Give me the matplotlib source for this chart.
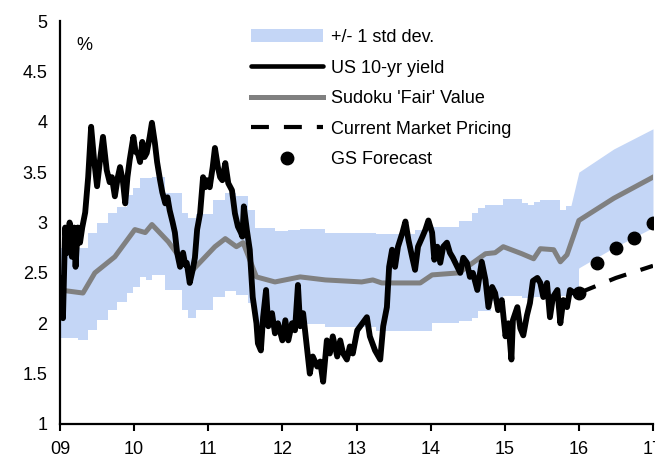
import matplotlib
matplotlib.use("Agg")
import matplotlib.pyplot as plt

plt.rcParams['font.family'] = ['Liberation Sans', 'DejaVu Sans']

# US 10-yr yield, fractional years
yield_t = [2009.00, 2009.02, 2009.04, 2009.07, 2009.10, 2009.13, 2009.16, 2009.19, 2009.21, 2009.24,
           2009.27, 2009.30, 2009.34, 2009.38, 2009.42, 2009.46, 2009.50, 2009.54, 2009.58, 2009.63,
           2009.67, 2009.70, 2009.74, 2009.78, 2009.81, 2009.85, 2009.88, 2009.91, 2009.94, 2009.99,
           2010.02, 2010.05, 2010.08, 2010.11, 2010.14, 2010.17, 2010.21, 2010.24, 2010.28, 2010.31,
           2010.35, 2010.38, 2010.42, 2010.45, 2010.48, 2010.52, 2010.55, 2010.58, 2010.62, 2010.66,
           2010.69, 2010.71, 2010.75, 2010.79, 2010.82, 2010.85, 2010.89, 2010.93, 2010.96, 2010.98,
           2011.02, 2011.06, 2011.09, 2011.13, 2011.16, 2011.19, 2011.23, 2011.27, 2011.32, 2011.36,
           2011.40, 2011.44, 2011.46, 2011.48, 2011.52, 2011.56, 2011.60, 2011.63, 2011.65, 2011.67,
           2011.71, 2011.74, 2011.78, 2011.81, 2011.86, 2011.90, 2011.94, 2012.00, 2012.04, 2012.08,
           2012.13, 2012.17, 2012.21, 2012.24, 2012.28, 2012.33, 2012.37, 2012.41, 2012.47, 2012.51,
           2012.55, 2012.60, 2012.64, 2012.68, 2012.74, 2012.78, 2012.82, 2012.87, 2012.91, 2012.95,
           2013.01, 2013.08, 2013.14, 2013.18, 2013.25, 2013.32, 2013.36, 2013.41, 2013.44, 2013.48,
           2013.52, 2013.56, 2013.62, 2013.66, 2013.70, 2013.75, 2013.79, 2013.83, 2013.89, 2013.93,
           2013.97, 2014.02, 2014.05, 2014.09, 2014.13, 2014.17, 2014.22, 2014.26, 2014.30, 2014.36,
           2014.40, 2014.44, 2014.49, 2014.53, 2014.57, 2014.63, 2014.69, 2014.74, 2014.78, 2014.83,
           2014.87, 2014.91, 2014.96, 2015.01, 2015.05, 2015.09, 2015.11, 2015.17, 2015.21, 2015.25,
           2015.30, 2015.34, 2015.38, 2015.44, 2015.48, 2015.52, 2015.57, 2015.61, 2015.65, 2015.71,
           2015.75, 2015.79, 2015.84, 2015.88, 2015.92, 2015.96]
yield_v = [2.20, 2.45, 2.05, 2.95, 2.70, 3.00, 2.66, 2.95, 2.56, 2.95,
           2.80, 2.95, 3.10, 3.45, 3.95, 3.62, 3.36, 3.62, 3.85, 3.52,
           3.40, 3.45, 3.26, 3.45, 3.55, 3.40, 3.19, 3.45, 3.62, 3.85,
           3.70, 3.69, 3.60, 3.80, 3.65, 3.69, 3.85, 3.99, 3.79, 3.60,
           3.42, 3.30, 3.19, 3.25, 3.12, 3.00, 2.90, 2.70, 2.56, 2.70,
           2.58, 2.60, 2.40, 2.53, 2.65, 2.93, 3.09, 3.45, 3.35, 3.42,
           3.35, 3.55, 3.74, 3.55, 3.45, 3.42, 3.59, 3.39, 3.32, 3.09,
           2.96, 2.90, 2.86, 3.16, 2.93, 2.73, 2.26, 2.10, 2.00, 1.80,
           1.73, 2.06, 2.33, 1.97, 2.10, 1.90, 2.00, 1.83, 2.03, 1.83,
           2.00, 1.93, 2.38, 1.97, 2.10, 1.77, 1.50, 1.67, 1.57, 1.62,
           1.42, 1.83, 1.70, 1.87, 1.67, 1.83, 1.70, 1.64, 1.77, 1.70,
           1.93, 2.00, 2.06, 1.87, 1.73, 1.64, 1.97, 2.16, 2.56, 2.73,
           2.56, 2.76, 2.90, 3.01, 2.83, 2.66, 2.53, 2.76, 2.86, 2.93,
           3.02, 2.90, 2.63, 2.76, 2.60, 2.76, 2.80, 2.70, 2.65, 2.56,
           2.50, 2.65, 2.60, 2.46, 2.50, 2.33, 2.61, 2.43, 2.16, 2.36,
           2.30, 2.13, 2.23, 1.87, 2.00, 1.64, 2.03, 2.16, 1.95, 1.88,
           2.08, 2.20, 2.42, 2.45, 2.40, 2.26, 2.40, 2.06, 2.26, 2.33,
           2.00, 2.23, 2.16, 2.33, 2.31, 2.30]

# Sudoku fair value
fair_t = [2009.00, 2009.31, 2009.47, 2009.74, 2010.01, 2010.15, 2010.24, 2010.46, 2010.62, 2010.78,
          2011.09, 2011.23, 2011.38, 2011.47, 2011.65, 2011.90, 2012.24, 2012.58, 2013.07, 2013.22,
          2013.34, 2013.86, 2014.02, 2014.38, 2014.74, 2014.87, 2014.98, 2015.23, 2015.39, 2015.48,
          2015.66, 2015.75, 2015.84, 2016.00, 2016.47, 2017.00]
fair_v = [2.33, 2.30, 2.50, 2.66, 2.93, 2.90, 2.98, 2.81, 2.65, 2.52,
          2.76, 2.84, 2.76, 2.80, 2.46, 2.41, 2.46, 2.43, 2.41, 2.43,
          2.40, 2.40, 2.48, 2.50, 2.69, 2.70, 2.76, 2.69, 2.64, 2.74,
          2.73, 2.61, 2.68, 3.02, 3.24, 3.45]

# +/- 1 std dev band, monthly steps up to end-2015
band_t = [2009.00, 2009.24, 2009.38, 2009.50, 2009.65, 2009.77, 2009.90, 2009.99, 2010.08, 2010.16,
          2010.24, 2010.42, 2010.64, 2010.73, 2010.83, 2011.06, 2011.22, 2011.38, 2011.54, 2011.63,
          2011.90, 2012.08, 2012.24, 2012.58, 2013.26, 2013.79, 2014.02, 2014.38, 2014.56, 2014.64,
          2014.74, 2014.82, 2014.98, 2015.23, 2015.31, 2015.39, 2015.48, 2015.75, 2015.82, 2015.89]
band_hi = [2.75, 2.75, 2.90, 3.00, 3.09, 3.15, 3.27, 3.34, 3.44, 3.44,
           3.45, 3.29, 3.09, 3.04, 3.08, 3.22, 3.29, 3.26, 3.12, 2.95,
           2.92, 2.93, 2.94, 2.90, 2.89, 2.93, 2.96, 3.01, 3.09, 3.14,
           3.17, 3.17, 3.23, 3.19, 3.17, 3.20, 3.22, 3.12, 3.16, 3.16]
band_lo = [1.85, 1.83, 1.93, 2.03, 2.13, 2.21, 2.30, 2.36, 2.46, 2.43,
           2.48, 2.33, 2.13, 2.05, 2.13, 2.26, 2.32, 2.28, 2.20, 1.95,
           1.93, 1.97, 1.99, 1.96, 1.92, 1.92, 2.00, 2.02, 2.05, 2.12,
           2.12, 2.22, 2.27, 2.25, 2.25, 2.26, 2.26, 2.27, 2.27, 2.27]

# forecast part of the band
fband_t = [2015.89, 2016.00, 2016.47, 2017.00]
fband_hi = [3.16, 3.50, 3.73, 3.93]
fband_lo = [2.27, 2.55, 2.75, 2.95]

# market forwards and GS forecast
mkt_t = [2016.00, 2016.50, 2017.00]
mkt_v = [2.30, 2.45, 2.57]
gs_t = [2016.00, 2016.25, 2016.50, 2016.75, 2017.00]
gs_v = [2.30, 2.60, 2.75, 2.85, 3.00]

xticks = list(range(2009, 2018))
xlabels = ['09', '10', '11', '12', '13', '14', '15', '16', '17']
yticks = [1, 1.5, 2, 2.5, 3, 3.5, 4, 4.5, 5]

band_col = '#c4d6f6'

fig = plt.figure(figsize=(6.55, 4.62), dpi=100)
ax = fig.add_axes([60 / 655, 38 / 462, 593 / 655, 403 / 462])

ax.fill_between(band_t + [2016.0], band_lo + [band_lo[-1]], band_hi + [band_hi[-1]],
                step='post', color=band_col, lw=0, zorder=1)
ax.fill_between(fband_t, fband_lo, fband_hi, color=band_col, lw=0, zorder=1)
ax.fill_between([], [], [], color=band_col, lw=0, label='+/- 1 std dev.')

ax.plot(yield_t, yield_v, color='black', lw=4.2, solid_joinstyle='round',
        solid_capstyle='round', label='US 10-yr yield', zorder=3)
ax.plot(fair_t, fair_v, color='#808080', lw=3.6, label="Sudoku 'Fair' Value", zorder=2)
ax.plot(mkt_t, mkt_v, color='black', lw=3, dashes=(4.3, 3.6),
        label='Current Market Pricing', zorder=3)
ax.plot(gs_t, gs_v, 'o', color='black', ms=9, label='GS Forecast', zorder=4)

ax.set_xlim(2009, 2017)
ax.set_ylim(1, 5)
ax.set_xticks(xticks)
ax.set_xticklabels(xlabels)
ax.set_yticks(yticks)
ax.set_yticklabels(['1', '1.5', '2', '2.5', '3', '3.5', '4', '4.5', '5'])

for s in ['top', 'right']:
    ax.spines[s].set_visible(False)
for s in ['left', 'bottom']:
    ax.spines[s].set_linewidth(1.6)
ax.tick_params(axis='x', length=5, width=1.5, direction='out', pad=7, labelsize=13)
ax.tick_params(axis='y', length=0, pad=9, labelsize=13)

ax.text(0.027, 0.94, '%', transform=ax.transAxes, fontsize=13, va='center', ha='left')

leg = ax.legend(loc='upper left', bbox_to_anchor=(0.322, 0.98), frameon=False, fontsize=13,
                handlelength=4.0, handletextpad=0.45, labelspacing=0.75, borderpad=0,
                borderaxespad=0, numpoints=1)
leg.get_lines()[0].set_linewidth(3.3)

fig.savefig('out.png', dpi=100)
